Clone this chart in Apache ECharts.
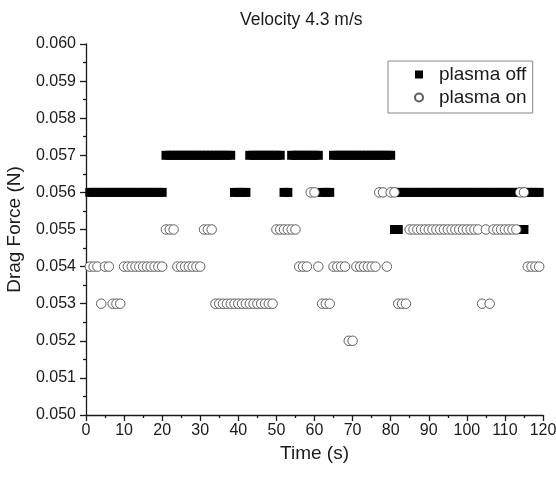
<!DOCTYPE html>
<html>
<head>
<meta charset="utf-8">
<title>Velocity 4.3 m/s</title>
<script src="https://cdn.jsdelivr.net/npm/echarts@6.0.0/dist/echarts.min.js"></script>
<style>
  html, body { margin: 0; padding: 0; background: #fff; }
  #chart { width: 556px; height: 479px; }
</style>
</head>
<body>
<div id="chart"></div>
<script>
  // plasma off (black squares), time in s, force in N
  var offTime = [
    1, 2, 3, 4, 5, 6, 7, 8, 9, 10,
    11, 12, 13, 14, 15, 16, 17, 18, 19, 20,
    21, 22, 23, 24, 25, 26, 27, 28, 29, 30,
    31, 32, 33, 34, 35, 36, 37, 38, 39, 40,
    41, 42, 43, 44, 45, 46, 47, 48, 49, 50,
    51, 52, 53, 54, 55, 56, 57, 58, 59, 60,
    61, 62, 63, 64, 65, 66, 67, 68, 69, 70,
    71, 72, 73, 74, 75, 76, 77, 78, 79, 80,
    81, 82, 83, 84, 85, 86, 87, 88, 89, 90,
    91, 92, 93, 94, 95, 96, 97, 98, 99, 100,
    101, 102, 103, 104, 105, 106, 107, 108, 109, 110,
    111, 112, 113, 114, 115, 116, 117, 118, 119,
    81, 82, 114, 115
  ]
  var offForce = [
    0.056, 0.056, 0.056, 0.056, 0.056, 0.056, 0.056, 0.056, 0.056, 0.056,
    0.056, 0.056, 0.056, 0.056, 0.056, 0.056, 0.056, 0.056, 0.056, 0.056,
    0.057, 0.057, 0.057, 0.057, 0.057, 0.057, 0.057, 0.057, 0.057, 0.057,
    0.057, 0.057, 0.057, 0.057, 0.057, 0.057, 0.057, 0.057, 0.056, 0.056,
    0.056, 0.056, 0.057, 0.057, 0.057, 0.057, 0.057, 0.057, 0.057, 0.057,
    0.057, 0.056, 0.056, 0.057, 0.057, 0.057, 0.057, 0.057, 0.057, 0.057,
    0.057, 0.056, 0.056, 0.056, 0.057, 0.057, 0.057, 0.057, 0.057, 0.057,
    0.057, 0.057, 0.057, 0.057, 0.057, 0.057, 0.057, 0.057, 0.057, 0.057,
    0.056, 0.056, 0.056, 0.056, 0.056, 0.056, 0.056, 0.056, 0.056, 0.056,
    0.056, 0.056, 0.056, 0.056, 0.056, 0.056, 0.056, 0.056, 0.056, 0.056,
    0.056, 0.056, 0.056, 0.056, 0.056, 0.056, 0.056, 0.056, 0.056, 0.056,
    0.056, 0.056, 0.056, 0.056, 0.056, 0.056, 0.056, 0.056, 0.056,
    0.055, 0.055, 0.055, 0.055
  ]

  // plasma on (open circles)
  var onTime = [
    1, 2, 3, 4, 5, 6, 7, 8, 9, 10,
    11, 12, 13, 14, 15, 16, 17, 18, 19, 20,
    21, 22, 23, 24, 25, 26, 27, 28, 29, 30,
    31, 32, 33, 34, 35, 36, 37, 38, 39, 40,
    41, 42, 43, 44, 45, 46, 47, 48, 49, 50,
    51, 52, 53, 54, 55, 56, 57, 58, 59, 60,
    61, 62, 63, 64, 65, 66, 67, 68, 69, 70,
    71, 72, 73, 74, 75, 76, 77, 78, 79, 80,
    81, 82, 83, 84, 85, 86, 87, 88, 89, 90,
    91, 92, 93, 94, 95, 96, 97, 98, 99, 100,
    101, 102, 103, 104, 105, 106, 107, 108, 109, 110,
    111, 112, 113, 114, 115, 116, 117, 118, 119
  ]
  var onForce = [
    0.054, 0.054, 0.054, 0.053, 0.054, 0.054, 0.053, 0.053, 0.053, 0.054,
    0.054, 0.054, 0.054, 0.054, 0.054, 0.054, 0.054, 0.054, 0.054, 0.054,
    0.055, 0.055, 0.055, 0.054, 0.054, 0.054, 0.054, 0.054, 0.054, 0.054,
    0.055, 0.055, 0.055, 0.053, 0.053, 0.053, 0.053, 0.053, 0.053, 0.053,
    0.053, 0.053, 0.053, 0.053, 0.053, 0.053, 0.053, 0.053, 0.053, 0.055,
    0.055, 0.055, 0.055, 0.055, 0.055, 0.054, 0.054, 0.054, 0.056, 0.056,
    0.054, 0.053, 0.053, 0.053, 0.054, 0.054, 0.054, 0.054, 0.052, 0.052,
    0.054, 0.054, 0.054, 0.054, 0.054, 0.054, 0.056, 0.056, 0.054, 0.056,
    0.056, 0.053, 0.053, 0.053, 0.055, 0.055, 0.055, 0.055, 0.055, 0.055,
    0.055, 0.055, 0.055, 0.055, 0.055, 0.055, 0.055, 0.055, 0.055, 0.055,
    0.055, 0.055, 0.055, 0.053, 0.055, 0.053, 0.055, 0.055, 0.055, 0.055,
    0.055, 0.055, 0.055, 0.056, 0.056, 0.054, 0.054, 0.054, 0.054
  ]

  var xTicks = [0, 120, 10]        // min, max, step
  var yTicks = [0.050, 0.060, 0.001]

  var font = 'Liberation Sans, Arial, Helvetica, sans-serif'
  var ink = '#1a1a1a'

  function zip(a, b) {
    return a.map(function (t, i) { return [t, b[i]] })
  }

  var myChart = echarts.init(document.getElementById('chart'))

  var option = {
    animation: false,
    backgroundColor: '#fff',
    title: {
      text: 'Velocity 4.3 m/s',
      left: 235,
      top: 6,
      textStyle: { fontFamily: font, fontSize: 17.5, fontWeight: 'normal', color: ink }
    },
    legend: {
      orient: 'vertical',
      left: 388,
      top: 61,
      padding: [4, 6, 6, 26],
      itemWidth: 8,
      itemHeight: 8,
      itemGap: 4,
      borderColor: '#888',
      borderWidth: 1,
      textStyle: { fontFamily: font, fontSize: 19, color: ink, padding: [0, 0, 0, 11] },
      data: ['plasma off', 'plasma on']
    },
    grid: {
      left: 86,
      right: 13,
      top: 44,
      bottom: 64,
      outerBoundsMode: 'none',
      containLabel: false
    },
    xAxis: {
      type: 'value',
      min: xTicks[0],
      max: xTicks[1],
      interval: xTicks[2],
      name: 'Time (s)',
      nameLocation: 'middle',
      nameGap: 27,
      nameTextStyle: { fontFamily: font, fontSize: 19, color: ink },
      axisLine: { show: true, lineStyle: { color: ink, width: 1.3 } },
      axisTick: { show: true, length: 6, lineStyle: { color: ink, width: 1.3 } },
      minorTick: { show: true, splitNumber: 2, length: 3, lineStyle: { color: ink, width: 1.3 } },
      axisLabel: { margin: 8, fontFamily: font, fontSize: 16, color: ink },
      splitLine: { show: false }
    },
    yAxis: {
      type: 'value',
      min: yTicks[0],
      max: yTicks[1],
      interval: yTicks[2],
      name: 'Drag Force (N)',
      nameLocation: 'middle',
      nameGap: 62,
      nameTextStyle: { fontFamily: font, fontSize: 19, color: ink },
      axisLine: { show: true, lineStyle: { color: ink, width: 1.3 } },
      axisTick: { show: true, length: 6, lineStyle: { color: ink, width: 1.3 } },
      minorTick: { show: true, splitNumber: 2, length: 3, lineStyle: { color: ink, width: 1.3 } },
      axisLabel: {
        margin: 10,
        fontFamily: font,
        fontSize: 16,
        color: ink,
        formatter: function (v) { return v.toFixed(3) }
      },
      splitLine: { show: false }
    },
    series: [{
      name: 'plasma off',
      type: 'scatter',
      symbol: 'rect',
      symbolSize: 9,
      itemStyle: { color: '#000', opacity: 1 },
      emphasis: { disabled: true },
      data: zip(offTime, offForce)
    }, {
      name: 'plasma on',
      type: 'scatter',
      symbol: 'circle',
      symbolSize: 9.5,
      itemStyle: { color: '#fff', borderColor: '#5e5e5e', borderWidth: 1, opacity: 1 },
      emphasis: { disabled: true },
      data: zip(onTime, onForce)
    }]
  }

  myChart.setOption(option)
</script>
</body>
</html>
